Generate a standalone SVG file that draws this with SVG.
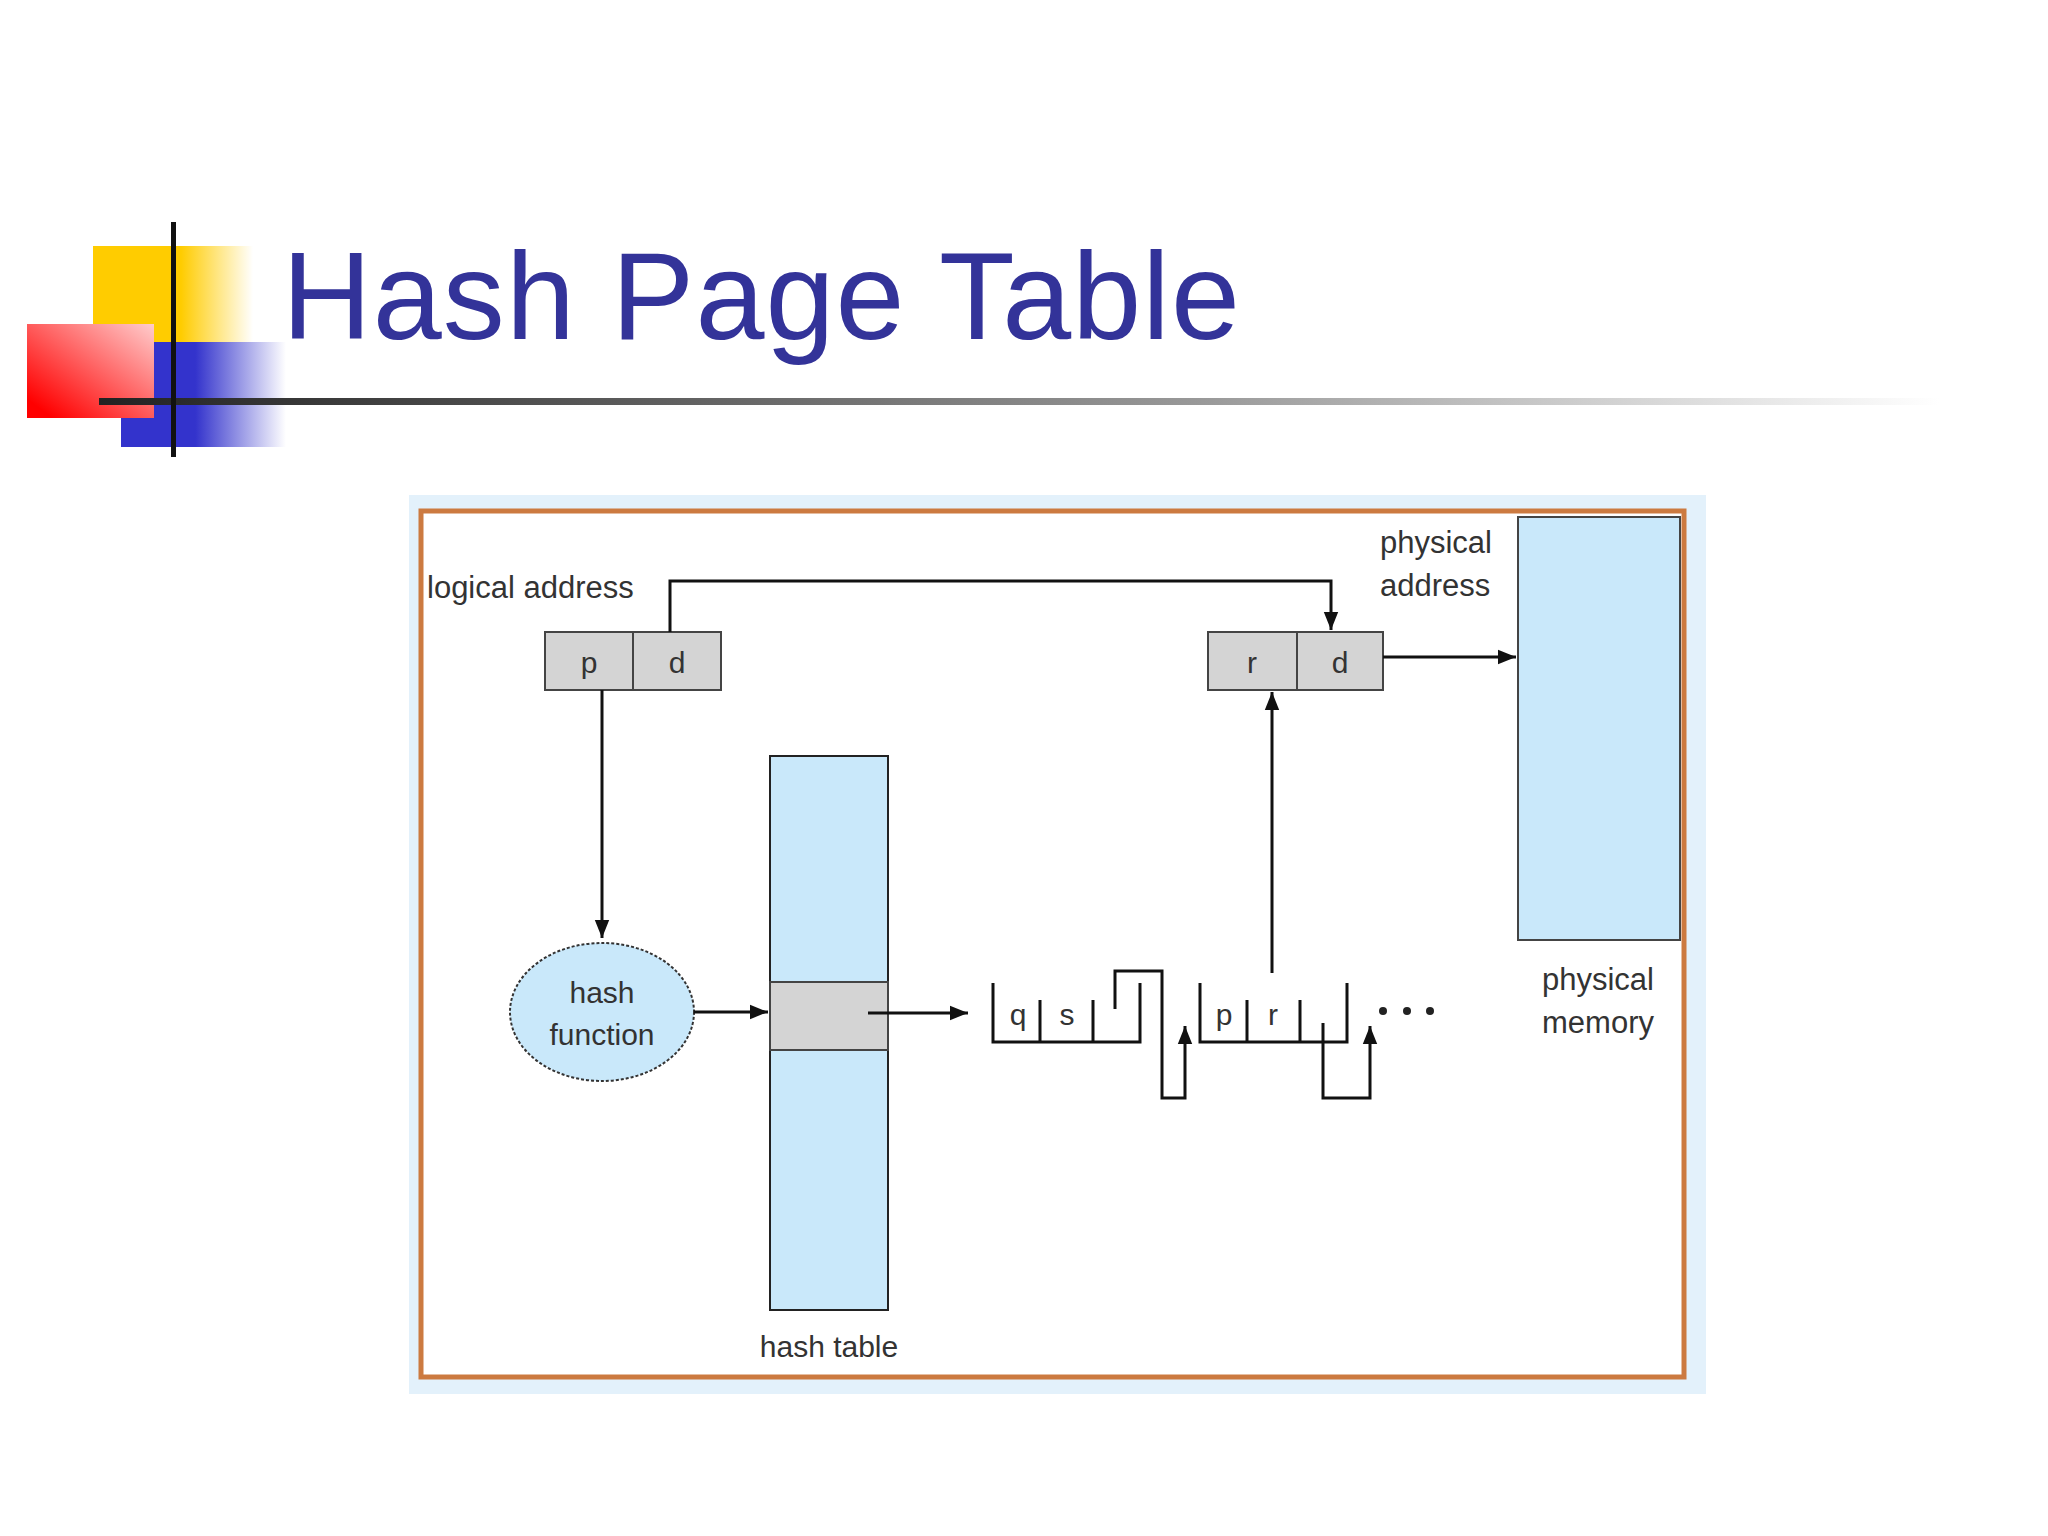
<svg xmlns="http://www.w3.org/2000/svg" width="2048" height="1536" viewBox="0 0 2048 1536">
<defs>
<linearGradient id="gy" x1="0" x2="1"><stop offset="0.55" stop-color="#ffcc00"/><stop offset="1" stop-color="#ffcc00" stop-opacity="0"/></linearGradient>
<linearGradient id="gb" x1="0" x2="1"><stop offset="0.45" stop-color="#3333cc"/><stop offset="1" stop-color="#3333cc" stop-opacity="0"/></linearGradient>
<linearGradient id="gr" x1="0" y1="1" x2="1" y2="0"><stop offset="0.1" stop-color="#ff0000"/><stop offset="1" stop-color="#ffcccc"/></linearGradient>
<linearGradient id="gl" x1="0" x2="1"><stop offset="0" stop-color="#222"/><stop offset="0.6" stop-color="#999"/><stop offset="1" stop-color="#fff"/></linearGradient>
<marker id="ah" viewBox="0 0 10 10" refX="10" refY="5" markerWidth="6" markerHeight="6" orient="auto"><path d="M0,1 L10,5 L0,9 z" fill="#111"/></marker>
</defs>
<style>
.t{font-family:"Liberation Sans",Arial,sans-serif;fill:#333;font-size:31px}
.c{font-family:"Liberation Sans",Arial,sans-serif;fill:#333;font-size:30px;text-anchor:middle}
.ln{stroke:#111;stroke-width:3;fill:none}
.box{fill:#d4d4d4;stroke:#444;stroke-width:2}
</style>
<rect width="2048" height="1536" fill="#fff"/>
<g id="deco">
<rect x="93" y="246" width="160" height="96" fill="url(#gy)"/>
<rect x="121" y="342" width="165" height="105" fill="url(#gb)"/>
<rect x="27" y="324" width="127" height="94" fill="url(#gr)"/>
<rect x="99" y="398" width="1840" height="7" fill="url(#gl)"/>
<rect x="171" y="222" width="5" height="235" fill="#111"/>
</g>
<text x="282" y="339" font-family="Liberation Sans,Arial,sans-serif" font-size="124" fill="#333399" textLength="958">Hash Page Table</text>
<g id="frame">
<rect x="409" y="495" width="1297" height="899" fill="#e3f1fb"/>
<rect x="421" y="511" width="1263" height="866" fill="#fff" stroke="#cc7a40" stroke-width="5"/>
</g>
<g id="logical">
<text class="t" x="427" y="598">logical address</text>
<rect class="box" x="545" y="632" width="176" height="58"/>
<line x1="633" y1="632" x2="633" y2="690" stroke="#444" stroke-width="2"/>
<text class="c" x="589" y="673">p</text><text class="c" x="677" y="673">d</text>
</g>
<g id="physaddr">
<text class="t" x="1380" y="553">physical</text><text class="t" x="1380" y="596">address</text>
<rect class="box" x="1208" y="632" width="175" height="58"/>
<line x1="1297" y1="632" x2="1297" y2="690" stroke="#444" stroke-width="2"/>
<text class="c" x="1252" y="673">r</text><text class="c" x="1340" y="673">d</text>
</g>
<g id="memory">
<rect x="1518" y="517" width="162" height="423" fill="#c9e8fa" stroke="#444" stroke-width="2"/>
<text class="t" x="1542" y="990">physical</text><text class="t" x="1542" y="1033">memory</text>
</g>
<g id="hashfn">
<ellipse cx="602" cy="1012" rx="92" ry="69" fill="#c9e8fa" stroke="#333" stroke-width="2" stroke-dasharray="3 2"/>
<text class="c" x="602" y="1003">hash</text><text class="c" x="602" y="1045">function</text>
</g>
<g id="hashtable">
<rect x="770" y="756" width="118" height="554" fill="#c9e8fa" stroke="#222" stroke-width="2"/>
<rect x="770" y="982" width="118" height="68" fill="#d4d4d4" stroke="#444" stroke-width="2"/>
<text class="c" x="829" y="1357">hash table</text>
</g>
<g id="chain">
<path class="ln" d="M993,983 V1042 H1140 V983 M1040,1000 V1042 M1093,1000 V1042"/>
<text class="c" x="1018" y="1025">q</text><text class="c" x="1067" y="1025">s</text>
<path class="ln" d="M1200,983 V1042 H1347 V983 M1247,1000 V1042 M1300,1000 V1042"/>
<text class="c" x="1224" y="1025">p</text><text class="c" x="1273" y="1025">r</text>
<g fill="#222"><circle cx="1383" cy="1011" r="4"/><circle cx="1407" cy="1011" r="4"/><circle cx="1430" cy="1011" r="4"/></g>
</g>
<g id="connectors">
<path class="ln" d="M670,632 V581 H1331 V630" marker-end="url(#ah)"/>
<path class="ln" d="M1383,657 H1516" marker-end="url(#ah)"/>
<path class="ln" d="M602,690 V938" marker-end="url(#ah)"/>
<path class="ln" d="M694,1012 H768" marker-end="url(#ah)"/>
<path class="ln" d="M868,1013 H968" marker-end="url(#ah)"/>
<path class="ln" d="M1272,973 V692" marker-end="url(#ah)"/>
<path class="ln" d="M1115,1009 V971 H1162 V1098 H1185 V1026" marker-end="url(#ah)"/>
<path class="ln" d="M1323,1023 V1098 H1370 V1026" marker-end="url(#ah)"/>
</g>
</svg>
